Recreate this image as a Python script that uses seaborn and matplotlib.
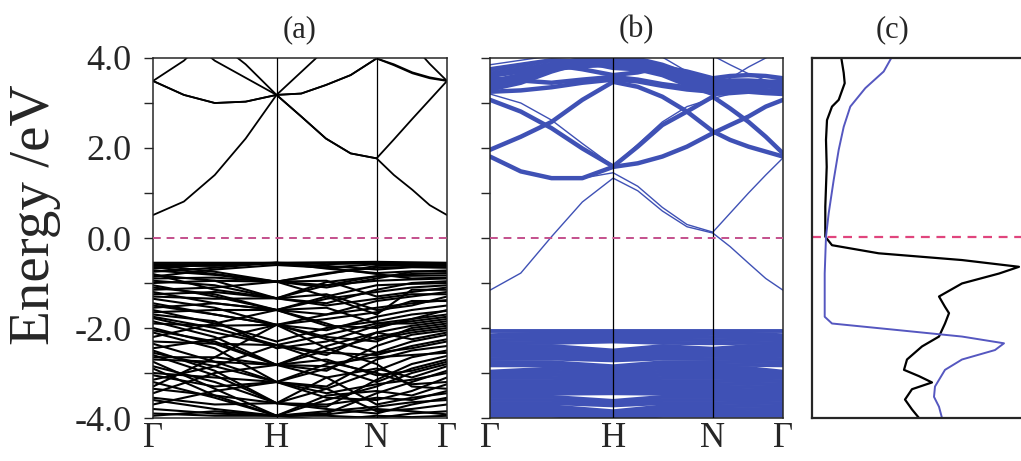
import numpy as np
import pandas as pd
import matplotlib
matplotlib.use("Agg")
import matplotlib.pyplot as plt
import seaborn as sns

# k-path positions (Γ - H - N - Γ)
K_COARSE = [0.0, 0.5, 1.0, 1.405, 1.81, 2.095, 2.38]
K_FINE = [0.0, 0.25, 0.5, 0.75, 1.0, 1.2, 1.4, 1.6, 1.81, 1.95, 2.1, 2.24, 2.38]
K_TICKS = [0.0, 1.0, 1.81, 2.38]
K_LABELS = ["Γ", "H", "N", "Γ"]

# panel (a): conduction bands on the fine grid
COND_A = [
    [0.51, 0.81, 1.40, 2.21, 3.18, 2.70, 2.21, 1.88, 1.77, 1.40, 1.07, 0.73, 0.51],
    [3.49, 3.18, 3.00, 3.03, 3.18, 2.70, 2.21, 1.88, 1.77, 2.19, 2.65, 3.07, 3.49],
    [3.49, 3.18, 3.00, 3.03, 3.18, 3.21, 3.40, 3.62, 3.99, 3.84, 3.66, 3.55, 3.49],
    [3.49, 3.94, 4.60, 5.00, 5.20, 5.20, 5.00, 4.80, 4.60, 4.50, 4.30, 3.87, 3.49],
    [5.00, 4.50, 3.94, 3.56, 3.18, 3.69, 4.20, 4.60, 4.90, 5.00, 5.00, 5.00, 5.00],
    [5.20, 5.00, 4.40, 3.86, 3.18, 3.21, 3.40, 3.62, 3.99, 3.86, 3.68, 3.57, 3.50],
]

# panel (a): valence bands on the coarse grid
VAL_A = [
    [-0.55, -0.55, -0.55, -0.54, -0.53, -0.54, -0.55],
    [-0.60, -0.75, -0.97, -0.80, -0.62, -0.60, -0.62],
    [-0.68, -0.58, -0.57, -0.62, -0.70, -0.65, -0.66],
    [-0.72, -0.82, -0.97, -1.10, -0.90, -0.75, -0.72],
    [-0.80, -1.15, -1.34, -1.05, -0.85, -0.80, -0.78],
    [-0.86, -0.70, -0.60, -0.66, -0.80, -0.90, -0.88],
    [-0.95, -1.05, -1.34, -1.45, -1.15, -1.00, -0.96],
    [-1.05, -1.30, -1.60, -1.35, -1.20, -1.10, -1.05],
    [-1.20, -1.45, -1.60, -1.70, -1.40, -1.30, -1.20],
    [-1.35, -1.55, -1.93, -1.70, -1.55, -1.45, -1.38],
    [-1.45, -1.70, -1.93, -2.05, -1.75, -1.60, -1.50],
    [-1.60, -1.90, -2.30, -2.00, -1.85, -1.70, -1.62],
    [-1.70, -1.85, -2.45, -2.30, -1.95, -1.85, -1.75],
    [-1.78, -2.10, -2.38, -2.60, -2.10, -1.95, -1.85],
    [-1.85, -2.20, -2.82, -2.50, -2.20, -2.05, -1.95],
    [-2.00, -2.35, -2.82, -2.95, -2.40, -2.15, -2.05],
    [-2.10, -2.45, -3.20, -2.90, -2.55, -2.30, -2.15],
    [-2.35, -2.75, -3.20, -3.30, -2.70, -2.50, -2.40],
    [-2.50, -2.95, -3.67, -3.35, -2.95, -2.65, -2.50],
    [-2.60, -3.05, -3.67, -3.75, -3.15, -2.80, -2.62],
    [-2.75, -3.35, -3.95, -3.60, -3.30, -3.00, -2.80],
    [-2.90, -3.50, -3.95, -3.90, -3.45, -3.20, -2.95],
    [-3.05, -3.30, -3.20, -3.55, -3.60, -3.40, -3.10],
    [-3.15, -2.85, -2.38, -2.75, -3.00, -3.25, -3.20],
    [-3.30, -2.65, -1.93, -2.45, -2.80, -3.30, -3.35],
    [-3.45, -3.00, -2.82, -3.10, -3.70, -3.55, -3.45],
    [-3.55, -3.70, -3.67, -3.80, -3.90, -3.70, -3.55],
    [-3.70, -3.40, -3.20, -3.35, -3.85, -3.80, -3.70],
    [-3.80, -3.90, -3.95, -3.95, -4.00, -3.90, -3.85],
    [-3.95, -3.85, -3.95, -4.05, -3.95, -3.98, -3.95],
    [-1.00, -0.95, -0.97, -0.95, -1.30, -1.20, -1.10],
    [-1.25, -1.20, -1.34, -1.25, -1.60, -1.50, -1.30],
    [-1.55, -1.45, -1.60, -1.55, -1.90, -1.80, -1.60],
    [-2.20, -1.90, -1.60, -1.90, -2.25, -2.10, -2.00],
    [-2.45, -2.25, -1.93, -2.25, -2.55, -2.45, -2.30],
    [-2.65, -2.65, -2.82, -2.70, -3.05, -2.95, -2.75],
    [-0.62, -0.62, -0.55, -0.66, -0.58, -0.58, -0.60],
    [-0.58, -0.58, -0.55, -0.58, -0.56, -0.57, -0.58],
    [-0.65, -0.80, -0.97, -0.78, -0.66, -0.64, -0.65],
    [-0.75, -0.66, -0.55, -0.68, -0.78, -0.74, -0.74],
    [-0.82, -0.95, -1.34, -0.98, -0.85, -0.84, -0.83],
    [-0.90, -0.88, -0.97, -1.05, -0.95, -0.92, -0.90],
    [-1.10, -1.25, -1.60, -1.30, -1.05, -1.02, -1.00],
    [-1.15, -1.10, -0.97, -1.30, -1.70, -1.15, -1.15],
    [-1.30, -1.35, -1.34, -1.50, -1.35, -1.25, -1.25],
    [-1.50, -1.70, -1.93, -1.80, -1.65, -1.40, -1.40],
    [-1.65, -1.60, -1.60, -1.95, -2.00, -1.80, -1.70],
    [-1.75, -2.00, -2.38, -2.15, -1.90, -1.90, -1.80],
    [-1.90, -1.95, -1.93, -2.20, -2.30, -2.00, -1.90],
    [-2.05, -2.30, -2.82, -2.40, -2.10, -2.25, -2.10],
    [-2.30, -2.35, -2.38, -2.55, -2.60, -2.40, -2.25],
    [-2.55, -2.85, -3.20, -2.80, -2.65, -2.60, -2.55],
    [-2.70, -2.75, -2.82, -2.85, -3.20, -2.90, -2.70],
    [-2.85, -3.20, -3.67, -3.10, -2.90, -3.10, -2.85],
    [-3.00, -3.10, -3.20, -3.45, -3.25, -3.15, -3.00],
    [-3.20, -3.55, -3.95, -3.50, -3.40, -3.50, -3.25],
    [-3.35, -3.50, -3.67, -3.70, -3.55, -3.60, -3.40],
    [-3.60, -3.80, -3.95, -3.85, -3.75, -3.65, -3.60],
    [-3.90, -3.95, -3.95, -3.92, -3.80, -3.85, -3.92],
]

# panel (b): single conduction bands (fine grid)
COND_B_SINGLE = [
    [-1.16, -0.78, 0.03, 0.80, 1.33, 1.05, 0.60, 0.25, 0.11, -0.19, -0.56, -0.90, -1.16],
    [1.81, 1.48, 1.33, 1.33, 1.45, 1.15, 0.68, 0.30, 0.13, 0.55, 1.00, 1.40, 1.78],
    [3.20, 3.00, 2.62, 2.10, 1.60, 2.08, 2.58, 2.92, 3.10, 3.20, 3.30, 3.35, 3.40],
    [3.07, 2.81, 2.44, 1.99, 1.59, 2.03, 2.51, 2.81, 3.14, 2.88, 2.58, 2.25, 1.88],
    [3.70, 3.80, 3.90, 4.00, 4.05, 4.05, 4.02, 3.70, 3.32, 3.55, 3.80, 4.00, 4.20],
    [3.85, 3.95, 4.05, 4.10, 4.10, 4.05, 4.10, 4.20, 4.05, 3.85, 3.65, 3.50, 3.42],
]

# panel (b): bundled conduction bands (fine grid)
COND_B_BUNDLE = [
    [1.81, 1.48, 1.33, 1.33, 1.58, 1.66, 1.81, 2.03, 2.33, 2.51, 2.70, 2.92, 3.07],
    [1.96, 2.25, 2.58, 3.07, 3.47, 3.36, 3.14, 2.81, 2.37, 2.18, 2.03, 1.92, 1.81],
    [3.07, 2.81, 2.44, 1.99, 1.59, 2.03, 2.51, 2.81, 3.14, 2.88, 2.58, 2.25, 1.88],
    [3.30, 3.45, 3.70, 3.90, 3.95, 3.90, 3.75, 3.55, 3.40, 3.42, 3.45, 3.40, 3.35],
    [3.42, 3.55, 3.80, 3.95, 4.05, 3.98, 3.85, 3.65, 3.50, 3.50, 3.50, 3.48, 3.45],
    [3.55, 3.50, 3.45, 3.52, 3.58, 3.52, 3.42, 3.35, 3.30, 3.32, 3.35, 3.36, 3.38],
    [3.25, 3.28, 3.35, 3.45, 3.52, 3.48, 3.38, 3.30, 3.25, 3.28, 3.30, 3.28, 3.25],
    [3.65, 3.75, 3.85, 3.75, 3.62, 3.68, 3.80, 3.70, 3.55, 3.60, 3.62, 3.60, 3.55],
    [3.35, 3.50, 3.75, 3.95, 4.00, 3.95, 3.80, 3.60, 3.45, 3.45, 3.45, 3.42, 3.40],
    [3.48, 3.62, 3.85, 3.98, 3.90, 3.85, 3.70, 3.50, 3.35, 3.38, 3.40, 3.38, 3.32],
    [3.60, 3.70, 3.75, 3.82, 3.85, 3.80, 3.68, 3.45, 3.28, 3.35, 3.42, 3.45, 3.50],
    [3.75, 3.85, 3.95, 3.92, 3.78, 3.75, 3.62, 3.40, 3.20, 3.22, 3.25, 3.22, 3.20],
]

# panel (b): valence block (coarse grid)
VAL_B = [
    [-2.07, -2.07, -2.07, -2.07, -2.07, -2.07, -2.07],
    [-2.16, -2.12, -2.12, -2.13, -2.12, -2.13, -2.16],
    [-2.20, -2.19, -2.18, -2.19, -2.20, -2.19, -2.21],
    [-2.27, -2.26, -2.24, -2.26, -2.27, -2.26, -2.27],
    [-2.34, -2.33, -2.30, -2.33, -2.34, -2.33, -2.34],
    [-2.41, -2.40, -2.50, -2.40, -2.46, -2.40, -2.41],
    [-2.48, -2.47, -2.55, -2.47, -2.52, -2.47, -2.48],
    [-2.55, -2.54, -2.60, -2.54, -2.56, -2.54, -2.55],
    [-2.62, -2.61, -2.66, -2.61, -2.62, -2.61, -2.62],
    [-2.69, -2.68, -2.72, -2.68, -2.69, -2.68, -2.69],
    [-2.76, -2.76, -2.85, -2.76, -2.76, -2.75, -2.76],
    [-2.83, -2.83, -2.91, -2.83, -2.83, -2.82, -2.83],
    [-2.97, -2.90, -2.97, -2.90, -2.90, -2.89, -2.97],
    [-3.02, -2.97, -3.03, -2.97, -2.97, -2.96, -3.02],
    [-3.07, -3.04, -3.09, -3.04, -3.04, -3.03, -3.07],
    [-3.11, -3.11, -3.15, -3.11, -3.11, -3.10, -3.11],
    [-3.18, -3.18, -3.21, -3.18, -3.18, -3.17, -3.18],
    [-3.25, -3.25, -3.27, -3.25, -3.25, -3.24, -3.25],
    [-3.32, -3.32, -3.33, -3.32, -3.32, -3.31, -3.32],
    [-3.39, -3.39, -3.39, -3.39, -3.39, -3.38, -3.39],
    [-3.46, -3.46, -3.45, -3.46, -3.46, -3.45, -3.46],
    [-3.53, -3.53, -3.62, -3.53, -3.53, -3.52, -3.53],
    [-3.60, -3.60, -3.67, -3.60, -3.60, -3.59, -3.60],
    [-3.67, -3.67, -3.72, -3.67, -3.67, -3.66, -3.67],
    [-3.74, -3.74, -3.85, -3.74, -3.74, -3.73, -3.74],
    [-3.81, -3.81, -3.90, -3.81, -3.81, -3.80, -3.81],
    [-3.88, -3.88, -3.95, -3.88, -3.88, -3.87, -3.88],
    [-3.95, -3.95, -4.00, -3.95, -3.95, -3.95, -3.95],
]

# panel (c): density of states (arbitrary units)
DOS_BLACK_E = [4.0, 3.67, 3.44, 3.07, 2.92, 2.62, 2.18, 1.58, 0.70, 0.03, -0.16, -0.34,
               -0.49, -0.64, -0.79, -1.01, -1.30, -1.53, -1.67, -1.90, -2.19, -2.41,
               -2.70, -2.93, -3.07, -3.21, -3.36, -3.59, -3.81, -4.0]
DOS_BLACK = [1.73, 1.97, 2.07, 1.47, 0.80, 0.30, 0.20, 0.27, 0.13, 0.13, 0.80, 5.47,
             13.8, 19.5, 17.5, 13.8, 11.5, 12.1, 12.5, 12.1, 11.5, 9.8,
             8.3, 8.0, 9.5, 10.8, 8.8, 8.1, 8.8, 9.5]
DOS_BLUE_E = [4.0, 3.70, 3.33, 2.92, 2.47, 1.96, 1.29, 0.55, 0.03, -0.79, -1.75, -1.90,
              -2.04, -2.19, -2.34, -2.49, -2.70, -2.93, -3.30, -3.53, -3.75, -4.0]
DOS_BLUE = [6.73, 5.97, 4.13, 2.63, 1.97, 1.47, 0.97, 0.47, 0.20, 0.07, 0.07, 0.80,
            7.1, 13.8, 18.0, 17.1, 13.8, 12.1, 11.1, 11.0, 11.5, 11.8]

BLUE = "#3f51b5"
FERMI_AB = "#c4508c"
FERMI_C = "#e0457d"


def band_frame(k, bands):
    rows = []
    for i, band in enumerate(bands):
        for kk, e in zip(k, band):
            rows.append((i, kk, e))
    return pd.DataFrame(rows, columns=["band", "k", "E"])


def draw_bands(ax, k, bands, color, lw):
    df = band_frame(k, bands)
    sns.lineplot(data=df, x="k", y="E", units="band", estimator=None,
                 color=color, lw=lw, ax=ax, legend=False)


def style_band_axes(ax, labels):
    ax.set_xlim(K_TICKS[0], K_TICKS[-1])
    ax.set_ylim(-4.0, 4.0)
    for k in K_TICKS[1:-1]:
        ax.axvline(k, color="black", lw=0.9, zorder=5)
    ax.axhline(0.0, color=FERMI_AB, lw=1.4, ls=(0, (4, 3)), zorder=6)
    ax.set_xticks(K_TICKS)
    ax.set_xticklabels(K_LABELS, fontsize=25)
    ax.tick_params(axis="x", length=0, pad=3)
    ax.set_yticks([-4, -2, 0, 2, 4])
    ax.set_yticks([-3, -1, 1, 3], minor=True)
    ax.tick_params(axis="y", which="both", direction="out", length=6.5, width=1.0, pad=9)
    if labels:
        ax.set_yticklabels(["-4.0", "-2.0", "0.0", "2.0", "4.0"], fontsize=26)
    else:
        ax.set_yticklabels([])
    ax.set_xlabel("")
    ax.set_ylabel("")
    for s in ax.spines.values():
        s.set_linewidth(1.1)


sns.set_style("ticks")
plt.rcParams["font.family"] = ["Liberation Serif", "DejaVu Serif"]

fig = plt.figure(figsize=(10.21, 4.61), dpi=100)
W, H = 1021.0, 461.0
ax_a = fig.add_axes([153 / W, 1 - 418 / H, 294 / W, 360 / H])
ax_b = fig.add_axes([490 / W, 1 - 418 / H, 293 / W, 360 / H])
ax_c = fig.add_axes([812 / W, 1 - 418 / H, 220 / W, 360 / H])

# (a) black band structure
draw_bands(ax_a, K_COARSE, VAL_A, "black", 1.5)
draw_bands(ax_a, K_FINE, COND_A, "black", 1.3)
style_band_axes(ax_a, True)
ax_a.set_title("(a)", fontsize=22, pad=15)

# (b) blue band structure
draw_bands(ax_b, K_COARSE, VAL_B, BLUE, 2.8)
draw_bands(ax_b, K_FINE, COND_B_BUNDLE, BLUE, 3.2)
draw_bands(ax_b, K_FINE, COND_B_SINGLE, BLUE, 1.0)
style_band_axes(ax_b, False)
ax_b.set_title("(b)", fontsize=22, pad=15)

# (c) density of states
sns.lineplot(x=DOS_BLACK, y=DOS_BLACK_E, sort=False, estimator=None,
             color="black", lw=1.6, ax=ax_c)
sns.lineplot(x=DOS_BLUE, y=DOS_BLUE_E, sort=False, estimator=None,
             color="#5557c0", lw=1.4, ax=ax_c)
ax_c.axhline(0.02, color=FERMI_C, lw=1.6, ls=(0, (4, 3)))
ax_c.set_xlim(-1.2, 20.8)
ax_c.set_ylim(-4.0, 4.0)
ax_c.set_xticks([])
ax_c.set_yticks([])
for s in ax_c.spines.values():
    s.set_linewidth(1.6)
ax_c.set_title("(c)", fontsize=22, pad=15, x=(892 - 812) / 220)

fig.text(35 / W, 1 - 215 / H, "Energy /eV", rotation=90, fontsize=41,
         ha="center", va="center")

fig.savefig("out.png", dpi=100)
